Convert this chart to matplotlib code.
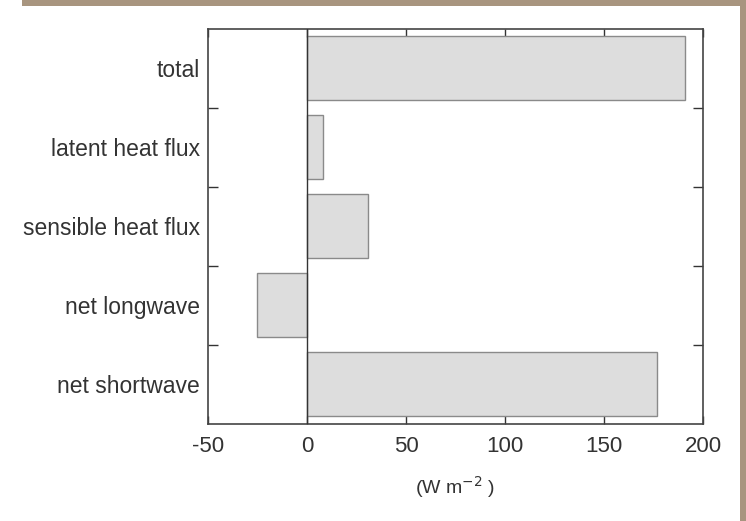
import matplotlib.pyplot as plt
from matplotlib.patches import Rectangle

plt.rcParams['font.family'] = ['Liberation Sans', 'DejaVu Sans']

# surface energy budget terms, bottom to top
terms = ["net shortwave", "net longwave", "sensible heat flux", "latent heat flux", "total"]
flux = [177, -25, 31, 8, 191]
xticks = [-50, 0, 50, 100, 150, 200]

fig = plt.figure(figsize=(7.46, 5.21), dpi=100)
fig.patch.set_facecolor("white")

# stone-coloured strips along the top and right edges
fig.patches.append(Rectangle((0.03, 0.988), 0.97, 0.012, transform=fig.transFigure,
                             facecolor="#a8957f", edgecolor="none"))
fig.patches.append(Rectangle((0.992, 0.0), 0.008, 1.0, transform=fig.transFigure,
                             facecolor="#a8957f", edgecolor="none"))

ax = fig.add_axes([0.2788, 0.1862, 0.6635, 0.7582])
ax.barh(range(len(terms)), flux, height=0.81, color="#dddddd",
        edgecolor="#8a8a8a", linewidth=1.0, zorder=2)
ax.axvline(0, color="#333333", linewidth=1.0, zorder=3)

ax.set_xlim(-50, 200)
ax.set_ylim(-0.5, 4.5)
ax.set_xticks(xticks)
ax.set_xticklabels([str(v) for v in xticks])
ax.set_yticks(range(len(terms)))
ax.set_yticklabels(terms)
# dividers between the categories, drawn on both side spines
ax.set_yticks([0.5, 1.5, 2.5, 3.5], minor=True)

ax.tick_params(axis="x", direction="in", top=True, length=6, width=1,
               color="#333333", labelsize=16, pad=9, labelcolor="#333333")
ax.tick_params(axis="y", which="major", length=0, labelsize=16.5, pad=6,
               labelcolor="#333333")
ax.tick_params(axis="y", which="minor", direction="in", left=True, right=True,
               length=7, width=1, color="#333333")

for s in ax.spines.values():
    s.set_color("#444444")
    s.set_linewidth(1.2)

ax.set_xlabel("(W m$^{-2}$ )", fontsize=14, labelpad=12, color="#333333")

fig.savefig("out.png", dpi=100)
